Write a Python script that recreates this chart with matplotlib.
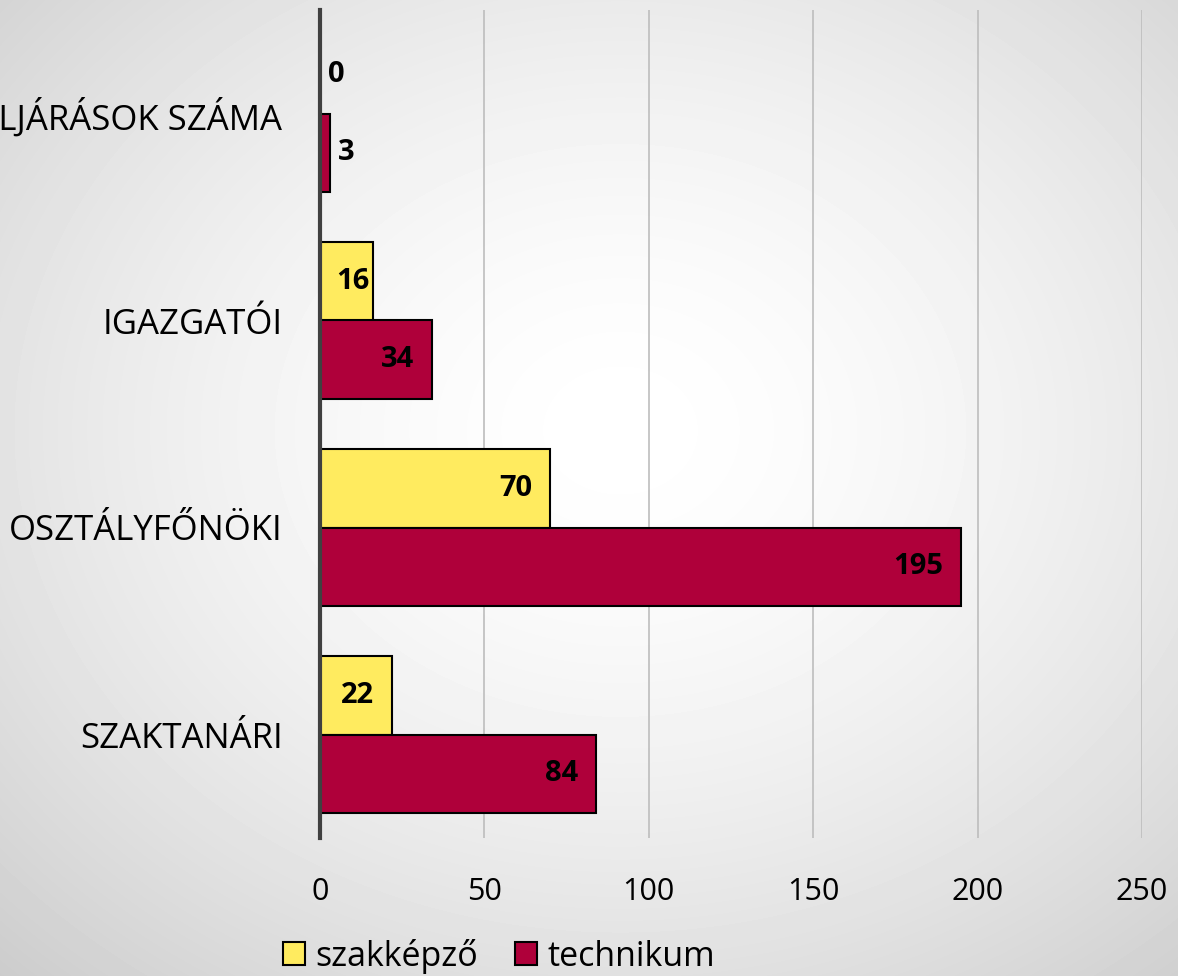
import matplotlib.pyplot as plt
import numpy as np
from matplotlib.patches import Patch

categories = ['SZAKTANÁRI', 'OSZTÁLYFŐNÖKI', 'IGAZGATÓI', 'FEGYELMI ELJÁRÁSOK SZÁMA']
szakkepzo = [22, 70, 16, 0]
technikum = [84, 195, 34, 3]
series_names = ['szakképző', 'technikum']
x_ticks = [0, 50, 100, 150, 200, 250]

sarga = '#FFEB5F'
bordo = '#AF003A'

plt.rcParams['font.family'] = ['Open Sans', 'DejaVu Sans']

fig = plt.figure(figsize=(11.78, 9.76), dpi=100)

# radialis hatter
bg = fig.add_axes([0, 0, 1, 1])
yy, xx = np.mgrid[0:976, 0:1178]
r = np.sqrt(((xx - 620) / 1178.0) ** 2 + ((yy - 430) / 976.0) ** 2)
r = r / r.max()
szurke = 1.0 - 0.2 * r ** 1.6
bg.imshow(szurke, cmap='gray', vmin=0, vmax=1, aspect='auto', extent=[0, 1, 0, 1])
bg.axis('off')

ax = fig.add_axes([320 / 1178, 1 - 838 / 976, 822 / 1178, 828 / 976])
ax.patch.set_alpha(0)

y = np.arange(len(categories))
h = 0.377
ax.barh(y + h / 2, szakkepzo, height=h, color=sarga, edgecolor='black', linewidth=1.5, zorder=3)
ax.barh(y - h / 2, technikum, height=h, color=bordo, edgecolor='black', linewidth=1.5, zorder=3)

def cimkek(vals, pos):
    for v, p in zip(vals, pos):
        if v < 10:
            ax.text(v + 2.5, p, str(v), ha='left', va='center', fontsize=21,
                    fontweight='bold', zorder=4)
        elif v - 5.5 - 9.5 < 5:
            # nem fer el rendesen, a tengelytol kezdjuk
            ax.text(5, p, str(v), ha='left', va='center', fontsize=21,
                    fontweight='bold', zorder=4)
        else:
            ax.text(v - 5.5, p, str(v), ha='right', va='center', fontsize=21,
                    fontweight='bold', zorder=4)

cimkek(szakkepzo, y + h / 2)
cimkek(technikum, y - h / 2)

ax.set_xlim(0, 250)
ax.set_ylim(-0.5, 3.5)
ax.set_xticks(x_ticks)
ax.set_xticklabels([str(t) for t in x_ticks], fontsize=22)
ax.set_yticks(y)
ax.set_yticklabels(categories, fontsize=25)
ax.tick_params(axis='x', length=0, pad=28)
ax.tick_params(axis='y', length=0, pad=27)
ax.grid(axis='x', color='#bdbdbd', linewidth=1.2, zorder=0)
for s in ['top', 'right', 'bottom']:
    ax.spines[s].set_visible(False)
ax.spines['left'].set_color('#404040')
ax.spines['left'].set_linewidth(3)
ax.spines['left'].set_zorder(5)

handles = [Patch(facecolor=sarga, edgecolor='black', linewidth=1.5),
           Patch(facecolor=bordo, edgecolor='black', linewidth=1.5)]
fig.legend(handles, series_names, loc='center', bbox_to_anchor=(499 / 1178, 1 - 956 / 976),
           ncol=2, frameon=False, fontsize=24.5, handlelength=0.65, handleheight=0.65,
           handletextpad=0.3, columnspacing=1.1, borderpad=0)

fig.savefig('out.png', dpi=100)
